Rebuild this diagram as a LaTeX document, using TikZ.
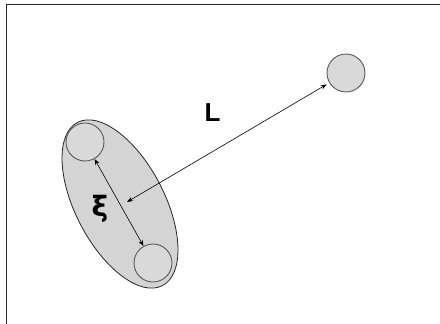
\documentclass[tikz,border=0pt]{standalone}
\usepackage{fontspec}
\setmainfont{Liberation Sans}
\newfontfamily\greekfont{DejaVu Sans}
\usetikzlibrary{arrows.meta,positioning,shapes.geometric,calc}

\begin{document}
\begin{tikzpicture}[>={Stealth[length=6pt,width=4.5pt]}, x=1pt, y=1pt,
  ball/.style={circle, draw=black!65, line width=0.9pt, fill=black!15,
    minimum size=38pt, inner sep=0pt},
  cluster/.style={ellipse, draw=black!85, line width=0.8pt, fill=black!17,
    minimum width=184pt, minimum height=89pt, inner sep=0pt},
  link/.style={<->, line width=0.6pt},
  tag/.style={font=\bfseries\fontsize{26}{30}\selectfont, inner sep=0pt}]
  % Frame
  \useasboundingbox (0,0) rectangle (440,324);
  \draw[line width=1.2pt, black!85] (6.5,0) |- (440,319.5);

  % Pair inside the cluster
  \node[cluster, rotate=-62.5] (pair) at (120,120) {};
  \node[ball] (top) at (85,182) {};
  \node[ball] (bot) at (153,61) {};

  % Far particle
  \node[ball] (far) at (346,251) {};
  \coordinate (hub) at (127,122);

  % Distances
  \draw[link] (top) -- (bot);
  \draw[link, shorten >=3pt] (hub) -- (far);

  % Labels
  \node[tag] (lenL) at (212.5,211) {L};
  \node[tag, font=\greekfont\bfseries\fontsize{28}{32}\selectfont] (xi) at (100,115) {ξ};
\end{tikzpicture}
\end{document}
